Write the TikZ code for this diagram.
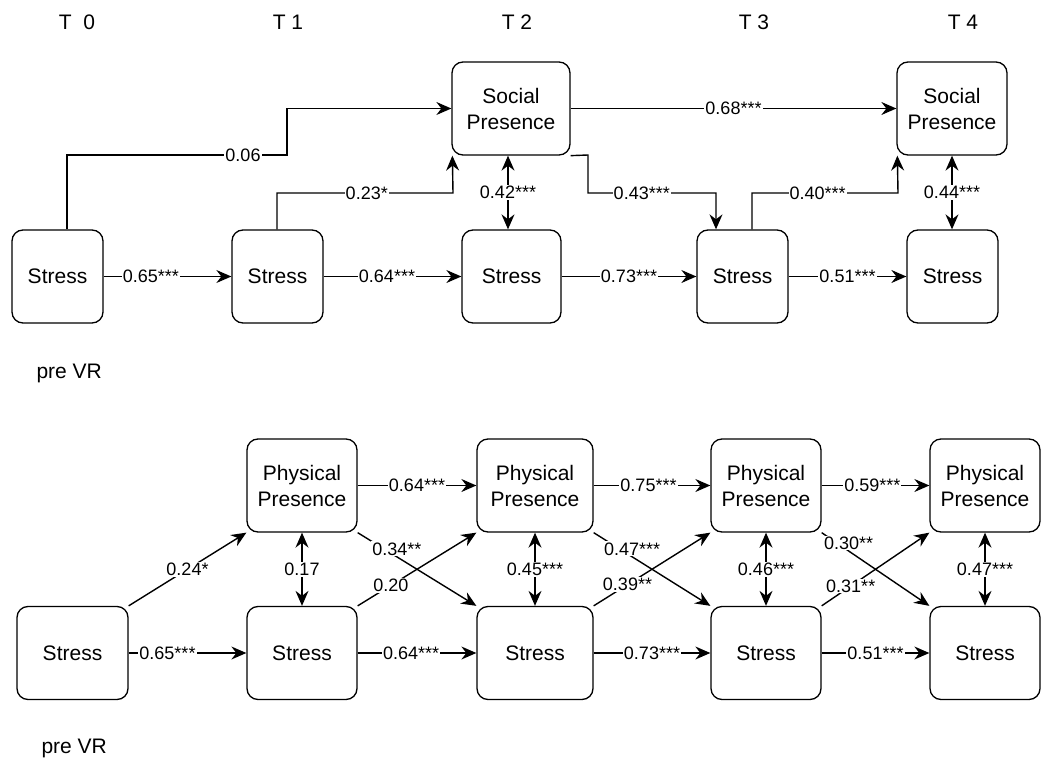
\documentclass[tikz,border=0pt]{standalone}
\usepackage{fontspec}
\setmainfont{Liberation Sans}
\usetikzlibrary{arrows.meta}
\begin{document}
\begin{tikzpicture}[x=1pt,y=-1pt,
  box/.style={draw, line width=1.3pt, rounded corners=11pt, minimum height=93pt, align=center,
              font=\fontsize{21}{26}\selectfont, inner sep=0pt},
  tip/.tip={Stealth[length=15pt,width=13pt,inset=5pt]},
  conn/.style={line width=1.4pt, -tip},
  bi/.style={line width=1.4pt, tip-tip},
  lab/.style={fill=white, inner sep=1pt, font=\fontsize{18}{20}\selectfont},
  hdr/.style={font=\fontsize{21}{24}\selectfont}
]
\useasboundingbox (0,0) rectangle (1054,762);

% headers
\node[hdr] (h0) at (77,22) {T\ \ 0};
\node[hdr] (h1) at (288,22) {T 1};
\node[hdr] (h2) at (517,22) {T 2};
\node[hdr] (h3) at (754,22) {T 3};
\node[hdr] (h4) at (963,22) {T 4};
\node[hdr, anchor=west] (pre1) at (33,373) {pre VR};
\node[hdr, anchor=west] (pre2) at (38,748) {pre VR};

% top panel nodes
\node[box, minimum width=91pt]  (a0) at (57.5,276.5) {Stress};
\node[box, minimum width=91pt]  (a1) at (277.5,276.5) {Stress};
\node[box, minimum width=118pt] (s2) at (511,108.5) {Social\\Presence};
\node[box, minimum width=99pt]  (a2) at (511.5,276.5) {Stress};
\node[box, minimum width=91pt]  (a3) at (742.5,276.5) {Stress};
\node[box, minimum width=110pt] (s4) at (952,108.5) {Social\\Presence};
\node[box, minimum width=91pt]  (a4) at (952.5,276.5) {Stress};

% top panel edges
\draw[conn] ([xshift=9.5pt]a0.north) -- (67,155) -- node[lab,pos=0.8]{0.06} (287,155) -- (287,108.5) -- (s2.west);
\draw[conn] ([xshift=-0.5pt]a1.north) -- (277,193) -- node[lab,pos=0.51]{0.23*} (453,193) -- ([xshift=1pt]s2.south west);
\draw[bi] ([xshift=-3pt]s2.south) -- node[lab]{0.42***} ([xshift=-3.5pt]a2.north);
\draw[conn] (s2.east) -- node[lab,pos=0.5]{0.68***} (s4.west);
\draw[conn] (s2.south east) -- (588,155) -- (588,193) -- node[lab,pos=0.42]{0.43***} (716,193) -- ([xshift=-26.5pt]a3.north);
\draw[conn] ([xshift=9.5pt]a3.north) -- (752,193) -- node[lab,pos=0.45]{0.40***} (898,193) -- ([xshift=1pt]s4.south west);
\draw[bi] (s4.south) -- node[lab]{0.44***} ([xshift=-0.5pt]a4.north);

\draw[conn] (a0.east) -- node[lab,pos=0.37]{0.65***} (a1.west);
\draw[conn] (a1.east) -- node[lab,pos=0.46]{0.64***} (a2.west);
\draw[conn] (a2.east) -- node[lab,pos=0.5]{0.73***} (a3.west);
\draw[conn] (a3.east) -- node[lab,pos=0.5]{0.51***} (a4.west);

% bottom panel nodes
\node[box, minimum width=111pt] (b0) at (72.5,653) {Stress};
\node[box, minimum width=110pt] (p1) at (302,485.5) {Physical\\Presence};
\node[box, minimum width=110pt] (b1) at (302,653) {Stress};
\node[box, minimum width=116pt] (p2) at (535,485.5) {Physical\\Presence};
\node[box, minimum width=116pt] (b2) at (535,653) {Stress};
\node[box, minimum width=110pt] (p3) at (766,485.5) {Physical\\Presence};
\node[box, minimum width=110pt] (b3) at (766,653) {Stress};
\node[box, minimum width=110pt] (p4) at (985,485.5) {Physical\\Presence};
\node[box, minimum width=110pt] (b4) at (985,653) {Stress};

% bottom panel edges
\draw[conn] (b0.north east) -- node[lab,pos=0.5]{0.24*} (p1.south west);
\draw[conn] (b0.east) -- node[lab,pos=0.33]{0.65***} (b1.west);
\draw[bi] (p1.south) -- node[lab]{0.17} (b1.north);
\draw[conn] (p1.east) -- node[lab,pos=0.5]{0.64***} (p2.west);
\draw[conn] (b1.east) -- node[lab,pos=0.45]{0.64***} (b2.west);
\draw[conn] (p1.south east) -- node[lab,pos=0.33,yshift=8pt]{0.34**} (b2.north west);
\draw[conn] (b1.north east) -- node[lab,pos=0.28]{0.20} (p2.south west);

\draw[bi] (p2.south) -- node[lab]{0.45***} (b2.north);
\draw[conn] (p2.east) -- node[lab,pos=0.47]{0.75***} (p3.west);
\draw[conn] (b2.east) -- node[lab,pos=0.5]{0.73***} (b3.west);
\draw[conn] (p2.south east) -- node[lab,pos=0.33,yshift=8pt]{0.47***} (b3.north west);
\draw[conn] (b2.north east) -- node[lab,pos=0.29]{0.39**} (p3.south west);

\draw[bi] (p3.south) -- node[lab]{0.46***} (b3.north);
\draw[conn] (p3.east) -- node[lab,pos=0.47]{0.59***} (p4.west);
\draw[conn] (b3.east) -- node[lab,pos=0.5]{0.51***} (b4.west);
\draw[conn] (p3.south east) -- node[lab,pos=0.25,yshift=8pt]{0.30**} (b4.north west);
\draw[conn] (b3.north east) -- node[lab,pos=0.27]{0.31**} (p4.south west);

\draw[bi] (p4.south) -- node[lab]{0.47***} (b4.north);
\end{tikzpicture}
\end{document}
